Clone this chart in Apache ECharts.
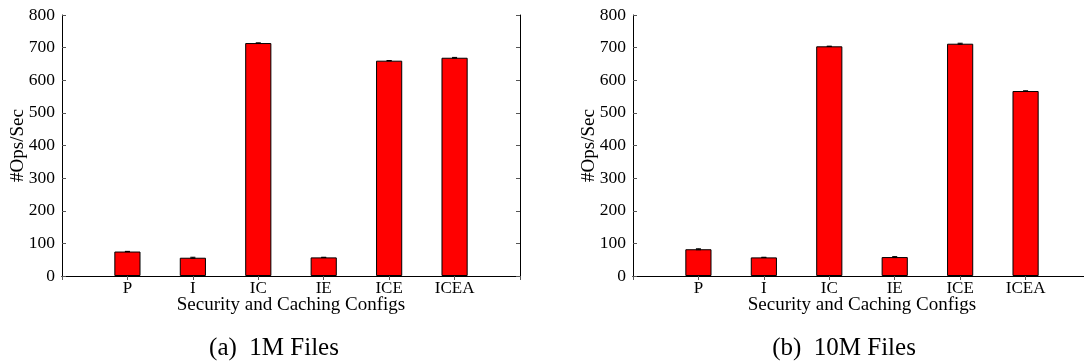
<!DOCTYPE html>
<html>
<head>
<meta charset="utf-8">
<script src="https://cdn.jsdelivr.net/npm/echarts@6/dist/echarts.min.js"></script>
<style>
html,body{margin:0;padding:0;background:#fff;}
#c{width:1084px;height:362px;}
</style>
</head>
<body>
<div id="c"></div>
<script>
const categories = ['P', 'I', 'IC', 'IE', 'ICE', 'ICEA'];
const values1M = [75, 56, 714, 57, 660, 669];
const errors1M = [0.5, 1.5, 0.5, 0.5, 0.5, 1];
const values10M = [82, 57, 704, 58, 712, 567];
const errors10M = [1.5, 0.5, 0.5, 1.5, 1.5, 0.5];
const yTicks = [0, 100, 200, 300, 400, 500, 600, 700, 800];
const yTitle = '#Ops/Sec';
const xTitle = 'Security and Caching Configs';
const captions = ['(a)  1M Files', '(b)  10M Files'];

const FONT = '"Liberation Serif", "Times New Roman", serif';
const axisCats = [''].concat(categories, ['']);

const grids = [
  {left: 62, top: 15, width: 458, height: 261},
  {left: 633, top: 15, width: 458, height: 261}
];

function panel(i) {
  const g = i;
  const xAxes = [
    {
      type: 'category', gridIndex: g, data: axisCats, boundaryGap: false,
      position: 'bottom',
      axisLine: {show: true, lineStyle: {color: '#000', width: 1}},
      axisTick: {show: false},
      axisLabel: {color: '#000', fontFamily: FONT, fontSize: 17, margin: 4, interval: 0},
      name: xTitle, nameLocation: 'middle', nameGap: 20, nameMoveOverlap: false,
      nameTextStyle: {color: '#000', fontFamily: FONT, fontSize: 19},
      splitLine: {show: false}
    },
    {
      type: 'category', gridIndex: g, data: axisCats, boundaryGap: false,
      position: 'top',
      axisLine: {show: true, lineStyle: {color: '#000', width: 1}},
      axisTick: {show: true, inside: true, length: 4, interval: 0, lineStyle: {color: '#555'}},
      axisLabel: {show: false},
      splitLine: {show: false}
    }
  ];
  const yAxes = [
    {
      type: 'value', gridIndex: g, min: yTicks[0], max: yTicks[yTicks.length - 1], interval: 100,
      position: 'left',
      axisLine: {show: true, lineStyle: {color: '#000', width: 1}},
      axisTick: {show: true, inside: true, length: 4, lineStyle: {color: '#555'}},
      axisLabel: {color: '#000', fontFamily: FONT, fontSize: 17.5, margin: 7},
      splitLine: {show: false},
      name: yTitle, nameLocation: 'middle', nameGap: 34, nameRotate: 90, nameMoveOverlap: false,
      nameTextStyle: {color: '#000', fontFamily: FONT, fontSize: 19},
      z: 5
    },
    {
      type: 'value', gridIndex: g, min: yTicks[0], max: yTicks[yTicks.length - 1], interval: 100,
      position: 'right',
      axisLine: {show: true, lineStyle: {color: '#000', width: 1}},
      axisTick: {show: true, inside: true, length: 4, lineStyle: {color: '#555'}},
      axisLabel: {show: false},
      splitLine: {show: false}
    }
  ];
  return {xAxes, yAxes};
}

const p0 = panel(0), p1 = panel(1);
const xAxis = [].concat(p0.xAxes, p1.xAxes);
const yAxis = [].concat(p0.yAxes, p1.yAxes);

function barSeries(values, axisIdx) {
  return {
    type: 'bar', xAxisIndex: axisIdx * 2, yAxisIndex: axisIdx * 2,
    data: values.map((v, k) => [k + 1, v]),
    barWidth: '40%',
    itemStyle: {color: '#ff0000', borderColor: '#000', borderWidth: 1},
    silent: true, animation: false
  };
}

function errSeries(values, errs, axisIdx) {
  return {
    type: 'custom', xAxisIndex: axisIdx * 2, yAxisIndex: axisIdx * 2,
    data: values.map((v, k) => [k + 1, v - errs[k], v + errs[k]]),
    renderItem: function (params, api) {
      const x = api.value(0);
      const lo = api.coord([x, api.value(1)]);
      const hi = api.coord([x, api.value(2)]);
      const hw = 2.5;
      const st = {stroke: '#000', lineWidth: 1};
      return {
        type: 'group',
        children: [
          {type: 'line', shape: {x1: lo[0], y1: lo[1], x2: hi[0], y2: hi[1]}, style: st},
          {type: 'line', shape: {x1: lo[0] - hw, y1: lo[1], x2: lo[0] + hw, y2: lo[1]}, style: st},
          {type: 'line', shape: {x1: hi[0] - hw, y1: hi[1], x2: hi[0] + hw, y2: hi[1]}, style: st}
        ]
      };
    },
    z: 10, silent: true, animation: false
  };
}

const chart = echarts.init(document.getElementById('c'), null, {renderer: 'canvas'});
chart.setOption({
  animation: false,
  backgroundColor: '#fff',
  grid: grids.map(g => Object.assign({outerBoundsMode: 'none', containLabel: false}, g)),
  xAxis: xAxis,
  yAxis: yAxis,
  series: [
    barSeries(values1M, 0), errSeries(values1M, errors1M, 0),
    barSeries(values10M, 1), errSeries(values10M, errors10M, 1)
  ],
  graphic: [
    {type: 'text', x: 274, y: 348, style: {text: captions[0], font: '25px ' + FONT, fill: '#000', align: 'center', verticalAlign: 'middle'}},
    {type: 'text', x: 844, y: 348, style: {text: captions[1], font: '25px ' + FONT, fill: '#000', align: 'center', verticalAlign: 'middle'}}
  ]
});
</script>
</body>
</html>
